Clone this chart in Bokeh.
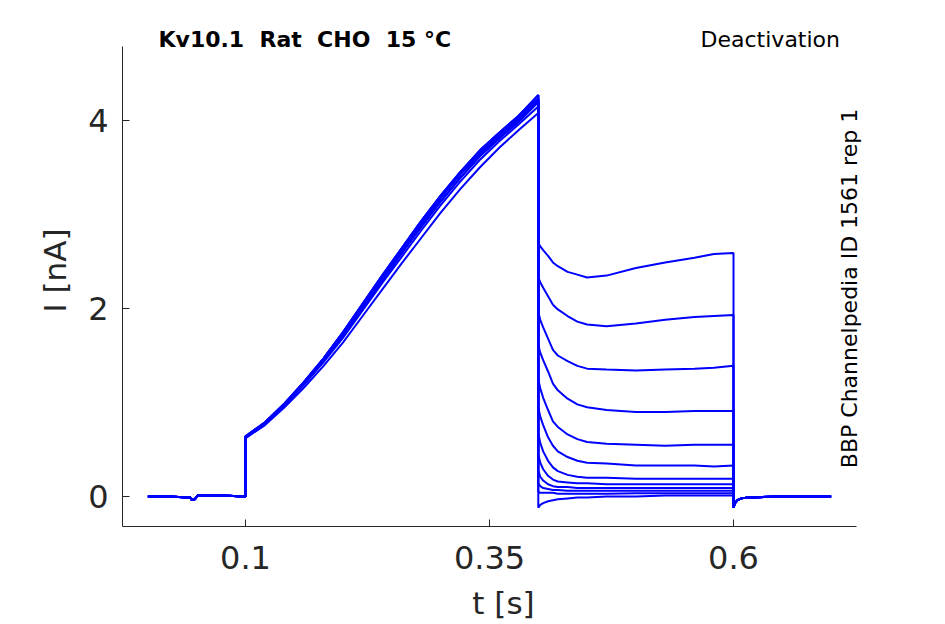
from bokeh.plotting import figure
from bokeh.models import Range1d, FixedTicker, Label, ColumnDataSource
from bokeh.embed import file_html
from bokeh.resources import INLINE

# ---------------- data ----------------
title_text = "Kv10.1\u00a0 Rat\u00a0 CHO\u00a0 15 °C"
protocol_text = "Deactivation"
source_text = "BBP Channelpedia ID 1561 rep 1"
x_label = "t [s]"
y_label = "I [nA]"

x_ticks = [0.1, 0.35, 0.6]
x_tick_labels = ["0.1", "0.35", "0.6"]
y_ticks = [0, 2, 4]
y_tick_labels = ["0", "2", "4"]

# holding segment (0 - 0.1 s)
base_t = [0.0, 0.02, 0.043, 0.045, 0.048, 0.051, 0.075, 0.1]
base_I = [0.0, 0.0, -0.01, -0.035, -0.03, 0.01, 0.01, 0.0]

# ramp segment (0.1 - 0.4 s)
ramp_t = [0.1, 0.12, 0.14, 0.16, 0.18, 0.2, 0.22, 0.24, 0.26, 0.28, 0.3,
          0.32, 0.34, 0.36, 0.38, 0.4]
ramp_hi = [0.64, 0.79, 0.99, 1.22, 1.47, 1.75, 2.05, 2.35, 2.64, 2.93, 3.20,
           3.45, 3.68, 3.87, 4.05, 4.27]
ramp_mid = [0.63, 0.78, 0.98, 1.21, 1.46, 1.73, 2.03, 2.33, 2.62, 2.90, 3.18,
            3.43, 3.65, 3.84, 4.02, 4.23]
ramp_mid2 = [0.63, 0.77, 0.97, 1.20, 1.45, 1.71, 2.00, 2.30, 2.59, 2.87, 3.14,
             3.39, 3.62, 3.81, 3.99, 4.20]
ramp_low = [0.62, 0.77, 0.97, 1.19, 1.43, 1.69, 1.98, 2.27, 2.55, 2.83, 3.10,
            3.35, 3.58, 3.78, 3.96, 4.15]
ramp_lowest = [0.62, 0.76, 0.95, 1.16, 1.39, 1.64, 1.92, 2.20, 2.48, 2.75, 3.02,
               3.27, 3.50, 3.71, 3.90, 4.08]
sweep_ramp = [ramp_hi, ramp_mid, ramp_mid2, ramp_hi, ramp_mid, ramp_mid2,
              ramp_mid, ramp_hi, ramp_mid2, ramp_mid, ramp_low, ramp_lowest]

# tail segment (0.4 - 0.6 s), one list per sweep
tail_t = [0.4, 0.402, 0.405, 0.41, 0.415, 0.42, 0.43, 0.44, 0.45, 0.47,
          0.5, 0.53, 0.56, 0.58, 0.6]
tail_1 = [2.70, 2.66, 2.62, 2.56, 2.49, 2.45, 2.39, 2.36, 2.33, 2.35, 2.43, 2.49, 2.54, 2.58, 2.59]
tail_2 = [2.33, 2.28, 2.22, 2.13, 2.04, 1.99, 1.92, 1.86, 1.83, 1.81, 1.84, 1.88, 1.91, 1.92, 1.93]
tail_3 = [1.96, 1.88, 1.80, 1.68, 1.56, 1.50, 1.44, 1.39, 1.36, 1.35, 1.34, 1.35, 1.36, 1.37, 1.39]
tail_4 = [1.61, 1.53, 1.45, 1.33, 1.20, 1.13, 1.04, 0.98, 0.95, 0.92, 0.90, 0.90, 0.91, 0.91, 0.91]
tail_5 = [1.25, 1.15, 1.05, 0.92, 0.80, 0.74, 0.66, 0.61, 0.58, 0.56, 0.55, 0.54, 0.55, 0.55, 0.55]
tail_6 = [0.95, 0.85, 0.76, 0.63, 0.54, 0.48, 0.42, 0.38, 0.36, 0.35, 0.33, 0.33, 0.33, 0.32, 0.33]
tail_7 = [0.67, 0.57, 0.48, 0.38, 0.31, 0.27, 0.23, 0.21, 0.20, 0.20, 0.19, 0.19, 0.19, 0.19, 0.19]
tail_8 = [0.45, 0.36, 0.29, 0.22, 0.18, 0.16, 0.15, 0.14, 0.14, 0.13, 0.13, 0.13, 0.13, 0.13, 0.13]
tail_9 = [0.28, 0.21, 0.17, 0.13, 0.11, 0.10, 0.10, 0.09, 0.09, 0.09, 0.09, 0.09, 0.09, 0.09, 0.09]
tail_10 = [0.14, 0.11, 0.09, 0.08, 0.07, 0.07, 0.06, 0.06, 0.06, 0.06, 0.06, 0.06, 0.06, 0.06, 0.06]
tail_11 = [0.05, 0.04, 0.04, 0.04, 0.04, 0.03, 0.03, 0.03, 0.03, 0.03, 0.035, 0.035, 0.035, 0.035, 0.035]
tail_12 = [-0.12, -0.09, -0.07, -0.05, -0.04, -0.03, -0.02, -0.01, -0.01, 0.0, 0.0, 0.01, 0.01, 0.01, 0.01]
tails = [tail_1, tail_2, tail_3, tail_4, tail_5, tail_6, tail_7, tail_8,
         tail_9, tail_10, tail_11, tail_12]

# return to holding (0.6 - 0.7 s)
post_t = [0.6, 0.6015, 0.604, 0.608, 0.615, 0.65, 0.7]
post_I = [-0.12, -0.07, -0.04, -0.02, -0.01, 0.0, 0.0]

# ---------------- layout ----------------
W, H = 945, 624
FL, FR, FT, FB = 122, 884, 14, 526          # plotting frame (pixels)
AXL, AXR, AXT = 122, 856, 46                # visible extent of the axes (pixels)
SX, SY = 976.0, 94.0                        # pixels per second / per nA
X0 = 0.1 - (245 - FL) / SX                  # 0.1 s tick sits at x = 245 px
Y0 = 0.0 - (FB - 496) / SY                  # 0 nA tick sits at y = 496 px
X1 = X0 + (FR - FL) / SX
Y1 = Y0 + (FB - FT) / SY
FONT = "DejaVu Sans"
AX_COL = "#262626"
TXT_SHIFT = 8                               # Bokeh label baseline offset (px)


def dx(px):
    return X0 + (px - FL) / SX


def dy(py):
    return Y0 + (FB - py) / SY


p = figure(width=W, height=H, output_backend="svg", toolbar_location=None,
           x_range=Range1d(X0, X1), y_range=Range1d(Y0, Y1),
           min_border_left=FL, min_border_right=W - FR,
           min_border_top=FT, min_border_bottom=H - FB)
p.outline_line_color = None
p.grid.visible = False
p.background_fill_color = "white"
p.border_fill_color = "white"

xs, ys = [], []
for ramp, tail in zip(sweep_ramp, tails):
    xs.append(base_t + ramp_t + tail_t + post_t)
    ys.append(base_I + ramp + tail + post_I)
src = ColumnDataSource(dict(xs=xs, ys=ys))
p.multi_line("xs", "ys", source=src, line_color="#0000ff", line_width=2)

for ax in (p.xaxis[0], p.yaxis[0]):
    ax.axis_line_color = AX_COL
    ax.axis_line_width = 1
    ax.major_tick_line_color = AX_COL
    ax.major_tick_in = 7
    ax.major_tick_out = 0
    ax.minor_tick_line_color = None
    ax.major_label_text_font = FONT
    ax.major_label_text_font_size = "32px"
    ax.major_label_text_color = AX_COL
    ax.axis_label_text_font = FONT
    ax.axis_label_text_font_size = "31px"
    ax.axis_label_text_font_style = "normal"
    ax.axis_label_text_color = AX_COL

p.xaxis.ticker = FixedTicker(ticks=x_ticks)
p.xaxis.major_label_overrides = dict(zip(x_ticks, x_tick_labels))
p.xaxis.axis_label = x_label
p.xaxis.bounds = (dx(AXL), dx(AXR))
p.xaxis.major_label_standoff = 19
p.xaxis.axis_label_standoff = 13

p.yaxis.ticker = FixedTicker(ticks=y_ticks)
p.yaxis.major_label_overrides = dict(zip(y_ticks, y_tick_labels))
p.yaxis.axis_label = y_label
p.yaxis.bounds = (dy(FB), dy(AXT))
p.yaxis.major_label_standoff = 14
p.yaxis.axis_label_standoff = 12

p.add_layout(Label(x=dx(158), y=dy(46.7 - TXT_SHIFT), text=title_text,
                   text_font=FONT, text_font_style="bold",
                   text_font_size="22px", text_color="black",
                   text_align="left", text_baseline="alphabetic"))
p.add_layout(Label(x=dx(839.5), y=dy(46.7 - TXT_SHIFT), text=protocol_text,
                   text_font=FONT, text_font_size="22px", text_color="black",
                   text_align="right", text_baseline="alphabetic"))
p.add_layout(Label(x=dx(856.7 - TXT_SHIFT), y=dy(288), text=source_text,
                   angle=1.5707963,
                   text_font=FONT, text_font_size="22px", text_color="black",
                   text_align="center", text_baseline="alphabetic"))

open("out.html", "w").write(file_html(p, INLINE))
